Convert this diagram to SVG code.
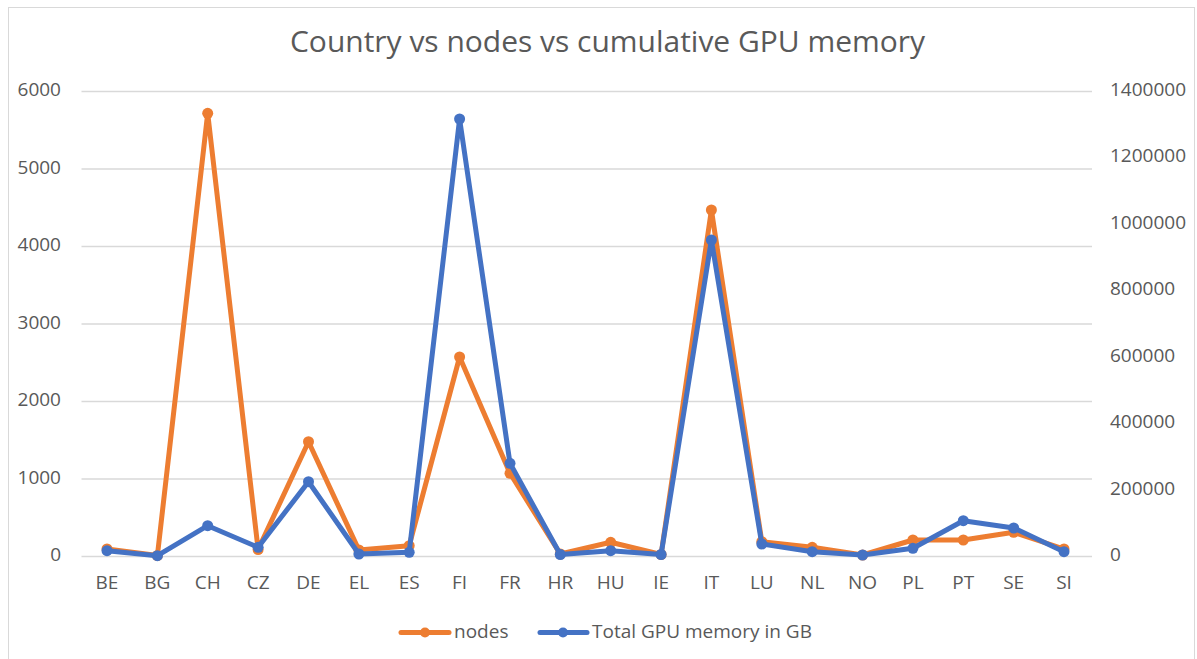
<svg xmlns="http://www.w3.org/2000/svg" width="1197" height="659" viewBox="0 0 1197 659">
<style>
  .lbl { font-family: "Open Sans", "Liberation Sans", sans-serif; font-size: 19px; fill: #595959; }
  .title { font-family: "Open Sans", "Liberation Sans", sans-serif; font-size: 29.5px; fill: #595959; }
  .grid { stroke: #d9d9d9; stroke-width: 1.5; }
  .sOrange { fill: none; stroke: #ed7d31; stroke-width: 5; stroke-linejoin: round; stroke-linecap: round; }
  .sBlue { fill: none; stroke: #4472c4; stroke-width: 5; stroke-linejoin: round; stroke-linecap: round; }
  .mOrange { fill: #ed7d31; }
  .mBlue { fill: #4472c4; }
</style>
<rect x="0" y="0" width="1197" height="659" fill="#ffffff"/>
<rect x="8.5" y="7.5" width="1186" height="670" fill="#ffffff" stroke="#d9d9d9" stroke-width="1"/>

<g id="title">
  <text class="title" x="607.5" y="52" text-anchor="middle" textLength="635" lengthAdjust="spacingAndGlyphs">Country vs nodes vs cumulative GPU memory</text>
</g>

<g id="gridlines">
  <line class="grid" x1="81.5" y1="556.5" x2="1092" y2="556.5"/>
  <line class="grid" x1="81.5" y1="479" x2="1092" y2="479"/>
  <line class="grid" x1="81.5" y1="401.5" x2="1092" y2="401.5"/>
  <line class="grid" x1="81.5" y1="324" x2="1092" y2="324"/>
  <line class="grid" x1="81.5" y1="246.5" x2="1092" y2="246.5"/>
  <line class="grid" x1="81.5" y1="169" x2="1092" y2="169"/>
  <line class="grid" x1="81.5" y1="91.5" x2="1092" y2="91.5"/>
</g>

<g id="left-axis" class="lbl" text-anchor="end">
  <text x="61" y="561">0</text>
  <text x="61" y="483.5">1000</text>
  <text x="61" y="406">2000</text>
  <text x="61" y="328.5">3000</text>
  <text x="61" y="251">4000</text>
  <text x="61" y="173.5">5000</text>
  <text x="61" y="96">6000</text>
</g>

<g id="right-axis" class="lbl" text-anchor="start">
  <text x="1110" y="561">0</text>
  <text x="1110" y="494.6">200000</text>
  <text x="1110" y="428.1">400000</text>
  <text x="1110" y="361.7">600000</text>
  <text x="1110" y="295.3">800000</text>
  <text x="1110" y="228.9">1000000</text>
  <text x="1110" y="162.4">1200000</text>
  <text x="1110" y="96">1400000</text>
</g>

<g id="x-axis" class="lbl" text-anchor="middle">
  <text x="107" y="589">BE</text>
  <text x="157.4" y="589">BG</text>
  <text x="207.7" y="589">CH</text>
  <text x="258.1" y="589">CZ</text>
  <text x="308.5" y="589">DE</text>
  <text x="358.9" y="589">EL</text>
  <text x="409.2" y="589">ES</text>
  <text x="459.6" y="589">FI</text>
  <text x="510" y="589">FR</text>
  <text x="560.3" y="589">HR</text>
  <text x="610.7" y="589">HU</text>
  <text x="661.1" y="589">IE</text>
  <text x="711.4" y="589">IT</text>
  <text x="761.8" y="589">LU</text>
  <text x="812.2" y="589">NL</text>
  <text x="862.6" y="589">NO</text>
  <text x="912.9" y="589">PL</text>
  <text x="963.3" y="589">PT</text>
  <text x="1013.7" y="589">SE</text>
  <text x="1064" y="589">SI</text>
</g>

<g id="series-nodes">
  <polyline class="sOrange" points="107,549 157.4,555.5 207.7,113.3 258.1,549.5 308.5,441.7 358.9,550 409.2,545.7 459.6,357 510,473.3 560.3,554 610.7,542.3 661.1,554.5 711.4,210 761.8,541.7 812.2,547.3 862.6,555 912.9,540 963.3,540 1013.7,532.3 1064,549"/>
  <g class="mOrange">
    <circle cx="107" cy="549" r="5.5"/>
    <circle cx="157.4" cy="555.5" r="5.5"/>
    <circle cx="207.7" cy="113.3" r="5.5"/>
    <circle cx="258.1" cy="549.5" r="5.5"/>
    <circle cx="308.5" cy="441.7" r="5.5"/>
    <circle cx="358.9" cy="550" r="5.5"/>
    <circle cx="409.2" cy="545.7" r="5.5"/>
    <circle cx="459.6" cy="357" r="5.5"/>
    <circle cx="510" cy="473.3" r="5.5"/>
    <circle cx="560.3" cy="554" r="5.5"/>
    <circle cx="610.7" cy="542.3" r="5.5"/>
    <circle cx="661.1" cy="554.5" r="5.5"/>
    <circle cx="711.4" cy="210" r="5.5"/>
    <circle cx="761.8" cy="541.7" r="5.5"/>
    <circle cx="812.2" cy="547.3" r="5.5"/>
    <circle cx="862.6" cy="555" r="5.5"/>
    <circle cx="912.9" cy="540" r="5.5"/>
    <circle cx="963.3" cy="540" r="5.5"/>
    <circle cx="1013.7" cy="532.3" r="5.5"/>
    <circle cx="1064" cy="549" r="5.5"/>
  </g>
</g>

<g id="series-gpu">
  <polyline class="sBlue" points="107,550.7 157.4,555.7 207.7,525.7 258.1,547.3 308.5,481.7 358.9,554 409.2,552.3 459.6,119 510,463.3 560.3,554.5 610.7,550.7 661.1,554.5 711.4,240 761.8,544 812.2,551.7 862.6,555 912.9,548.3 963.3,520.7 1013.7,528 1064,551.7"/>
  <g class="mBlue">
    <circle cx="107" cy="550.7" r="5.5"/>
    <circle cx="157.4" cy="555.7" r="5.5"/>
    <circle cx="207.7" cy="525.7" r="5.5"/>
    <circle cx="258.1" cy="547.3" r="5.5"/>
    <circle cx="308.5" cy="481.7" r="5.5"/>
    <circle cx="358.9" cy="554" r="5.5"/>
    <circle cx="409.2" cy="552.3" r="5.5"/>
    <circle cx="459.6" cy="119" r="5.5"/>
    <circle cx="510" cy="463.3" r="5.5"/>
    <circle cx="560.3" cy="554.5" r="5.5"/>
    <circle cx="610.7" cy="550.7" r="5.5"/>
    <circle cx="661.1" cy="554.5" r="5.5"/>
    <circle cx="711.4" cy="240" r="5.5"/>
    <circle cx="761.8" cy="544" r="5.5"/>
    <circle cx="812.2" cy="551.7" r="5.5"/>
    <circle cx="862.6" cy="555" r="5.5"/>
    <circle cx="912.9" cy="548.3" r="5.5"/>
    <circle cx="963.3" cy="520.7" r="5.5"/>
    <circle cx="1013.7" cy="528" r="5.5"/>
    <circle cx="1064" cy="551.7" r="5.5"/>
  </g>
</g>

<g id="legend">
  <g id="legend-nodes">
    <line class="sOrange" x1="401" y1="632.5" x2="449" y2="632.5"/>
    <circle class="mOrange" cx="425" cy="632.5" r="5"/>
    <text class="lbl" x="454" y="637.5">nodes</text>
  </g>
  <g id="legend-gpu">
    <line class="sBlue" x1="540" y1="632.5" x2="587" y2="632.5"/>
    <circle class="mBlue" cx="563" cy="632.5" r="5"/>
    <text class="lbl" x="592" y="637.5">Total GPU memory in GB</text>
  </g>
</g>
</svg>
